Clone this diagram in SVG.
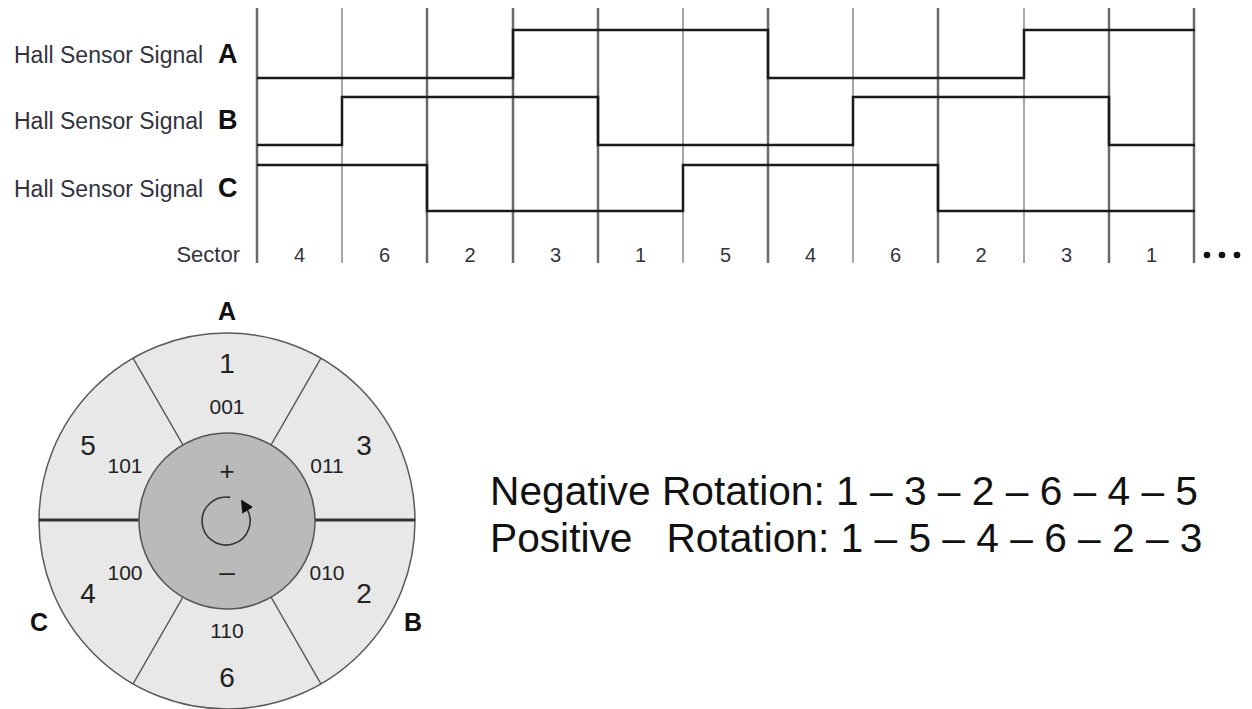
<svg xmlns="http://www.w3.org/2000/svg" width="1252" height="709" viewBox="0 0 1252 709">
<style>
.lbl{font-family:"Liberation Sans",Arial,sans-serif;font-size:23px;fill:#333340}
.let{font-family:"Liberation Sans",Arial,sans-serif;font-size:27px;font-weight:bold;fill:#111}
.sec{font-family:"Liberation Sans",Arial,sans-serif;font-size:20px;fill:#333340;text-anchor:middle}
.gth{stroke:#6a6a6a;stroke-width:2.5}
.gtn{stroke:#8a8a8a;stroke-width:1.5}
.sig{fill:none;stroke:#1a1a1a;stroke-width:2.5}
.big{font-family:"Liberation Sans",Arial,sans-serif;font-size:28px;fill:#222;text-anchor:middle}
.code{font-family:"Liberation Sans",Arial,sans-serif;font-size:21px;fill:#222;text-anchor:middle}
.rot{font-family:"Liberation Sans",Arial,sans-serif;font-size:40.7px;fill:#111}
.div{stroke:#555;stroke-width:1.5}
.divh{stroke:#333;stroke-width:3}
</style>
<defs>
<marker id="ah" viewBox="0 0 10 10" refX="2" refY="5" markerWidth="8" markerHeight="8" orient="auto" markerUnits="strokeWidth">
<path d="M0,0 L10,5 L0,10 z" fill="#111"/>
</marker>
</defs>
<rect width="1252" height="709" fill="#fff"/>

<g id="row-labels">
<text class="lbl" x="14" y="63">Hall Sensor Signal</text><text class="let" x="218" y="63">A</text>
<text class="lbl" x="14" y="129">Hall Sensor Signal</text><text class="let" x="218" y="129">B</text>
<text class="lbl" x="14" y="197">Hall Sensor Signal</text><text class="let" x="218" y="197">C</text>
<text class="lbl" x="240" y="262" text-anchor="end" style="font-size:22px">Sector</text>
</g>

<g id="grid">
<line class="gth" x1="257" y1="8" x2="257" y2="263"/>
<line class="gtn" x1="342" y1="8" x2="342" y2="263"/>
<line class="gth" x1="427" y1="8" x2="427" y2="263"/>
<line class="gth" x1="513" y1="8" x2="513" y2="263"/>
<line class="gth" x1="598" y1="8" x2="598" y2="263"/>
<line class="gtn" x1="683" y1="8" x2="683" y2="263"/>
<line class="gth" x1="768" y1="8" x2="768" y2="263"/>
<line class="gtn" x1="853" y1="8" x2="853" y2="263"/>
<line class="gth" x1="938" y1="8" x2="938" y2="263"/>
<line class="gtn" x1="1024" y1="8" x2="1024" y2="263"/>
<line class="gth" x1="1109" y1="8" x2="1109" y2="263"/>
<line class="gth" x1="1194" y1="8" x2="1194" y2="263"/>
</g>

<g id="signals">
<path id="sig-a" class="sig" d="M257 78 H513 V30 H768 V78 H1024 V30 H1195"/>
<path id="sig-b" class="sig" d="M257 145 H342 V97 H598 V145 H853 V97 H1109 V145 H1195"/>
<path id="sig-c" class="sig" d="M257 165 H427 V211 H683 V165 H938 V211 H1195"/>
</g>

<g id="sector-row">
<text class="sec" x="299.5" y="262">4</text>
<text class="sec" x="384.5" y="262">6</text>
<text class="sec" x="470" y="262">2</text>
<text class="sec" x="555.5" y="262">3</text>
<text class="sec" x="640.5" y="262">1</text>
<text class="sec" x="725.5" y="262">5</text>
<text class="sec" x="810.5" y="262">4</text>
<text class="sec" x="895.5" y="262">6</text>
<text class="sec" x="981" y="262">2</text>
<text class="sec" x="1066.5" y="262">3</text>
<text class="sec" x="1151.5" y="262">1</text>
<circle cx="1207" cy="255" r="3.3" fill="#111"/>
<circle cx="1222" cy="255" r="3.3" fill="#111"/>
<circle cx="1237" cy="255" r="3.3" fill="#111"/>
</g>

<g id="wheel">
<circle cx="227" cy="521" r="188" fill="#e8e8e8" stroke="#5a5a5a" stroke-width="1.5"/>
<line class="div" x1="133" y1="358" x2="183" y2="445"/>
<line class="div" x1="321" y1="358" x2="271" y2="445"/>
<line class="div" x1="133" y1="684" x2="183" y2="597"/>
<line class="div" x1="321" y1="684" x2="271" y2="597"/>
<line class="divh" x1="39" y1="520" x2="139" y2="520"/>
<line class="divh" x1="315" y1="520" x2="415" y2="520"/>
<circle cx="227" cy="521" r="88" fill="#bababa" stroke="#555" stroke-width="1.5"/>
<text class="let" x="227" y="320" text-anchor="middle" style="font-size:25px">A</text>
<text class="let" x="39" y="631" text-anchor="middle" style="font-size:25px">C</text>
<text class="let" x="413" y="631" text-anchor="middle" style="font-size:25px">B</text>
</g>

<g id="sector-1"><text class="big" x="227" y="373">1</text><text class="code" x="227" y="414">001</text></g>
<g id="sector-3"><text class="big" x="364" y="455">3</text><text class="code" x="327" y="473">011</text></g>
<g id="sector-5"><text class="big" x="88" y="455">5</text><text class="code" x="125" y="473">101</text></g>
<g id="sector-4"><text class="big" x="88" y="603">4</text><text class="code" x="125" y="580">100</text></g>
<g id="sector-2"><text class="big" x="364" y="603">2</text><text class="code" x="327" y="580">010</text></g>
<g id="sector-6"><text class="big" x="227" y="687">6</text><text class="code" x="227" y="638">110</text></g>

<g id="hub">
<text class="big" x="227" y="480" style="font-size:26px">+</text>
<text class="big" x="227" y="581" style="font-size:28px">–</text>
<path d="M230.2 497.4 A24 24 0 1 0 246.4 508.3" fill="none" stroke="#333" stroke-width="1.6" marker-end="url(#ah)"/>
</g>

<g id="rotation-text">
<text class="rot" x="490" y="505">Negative Rotation: 1 – 3 – 2 – 6 – 4 – 5</text>
<text class="rot" x="490" y="552" xml:space="preserve">Positive   Rotation: 1 – 5 – 4 – 6 – 2 – 3</text>
</g>
</svg>
